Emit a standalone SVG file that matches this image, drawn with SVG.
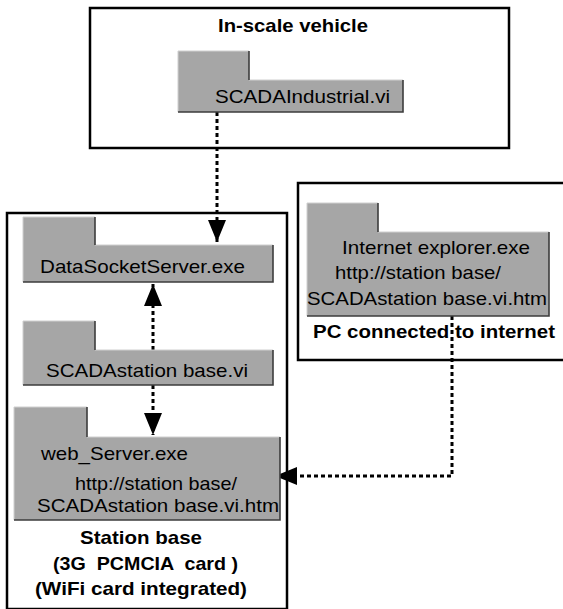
<svg xmlns="http://www.w3.org/2000/svg" width="563" height="609" viewBox="0 0 563 609">
<style>
.box{fill:#fff;stroke:#000;stroke-width:2.5}
.fold{fill:#a6a6a6;stroke:none}
.hl{fill:none;stroke:#cfcfcf;stroke-width:1}
.sh{fill:none;stroke:#3c3c3c;stroke-width:1.6}
.t{font-family:"Liberation Sans",Arial,sans-serif;font-size:19px;fill:#000}
.b{font-family:"Liberation Sans",Arial,sans-serif;font-size:19px;font-weight:bold;fill:#000;white-space:pre}
.con{fill:none;stroke:#000;stroke-width:3;stroke-dasharray:4 3}
</style>
<defs>
<marker id="ah" markerUnits="userSpaceOnUse" markerWidth="22" markerHeight="18" viewBox="0 0 22 18" refX="22" refY="9" orient="auto">
<path d="M0,0 L22,9 L0,18 Z" fill="#000"/>
</marker>
</defs>
<rect width="563" height="609" fill="#fff"/>
<g id="vehicle">
<rect class="box" x="90" y="8" width="419" height="140"/>
<text class="b" x="218" y="32" textLength="150" lengthAdjust="spacingAndGlyphs">In-scale vehicle</text>
</g>
<g id="station">
<rect class="box" x="7" y="213" width="280" height="396"/>
<text class="b" x="141" y="544" text-anchor="middle" textLength="122" lengthAdjust="spacingAndGlyphs">Station base</text>
<text class="b" x="145.5" y="570" text-anchor="middle" textLength="185" lengthAdjust="spacingAndGlyphs" xml:space="preserve">(3G  PCMCIA  card )</text>
<text class="b" x="141" y="595" text-anchor="middle" textLength="212" lengthAdjust="spacingAndGlyphs">(WiFi card integrated)</text>
</g>
<g id="pc">
<rect class="box" x="298" y="183" width="280" height="177"/>
<text class="b" x="313" y="338" textLength="242" lengthAdjust="spacingAndGlyphs">PC connected to internet</text>
</g>
<g id="connectors">
<path class="con" d="M217,112 V242" marker-end="url(#ah)"/>
<path class="con" d="M153,350 V284" marker-end="url(#ah)"/>
<path class="con" d="M153,385 V435" marker-end="url(#ah)"/>
<path class="con" d="M452,316 V476 H275" marker-end="url(#ah)"/>
</g>
<g id="scadaIndustrial">
<path class="fold" d="M178,51 H249 V80 H403 V112 H178 Z"/>
<path class="hl" d="M178,112 V51 H249 M249,80 H403"/>
<path class="sh" d="M249,51 V80 M403,80 V112 H178"/>
<text class="t" x="215" y="103" textLength="175" lengthAdjust="spacingAndGlyphs">SCADAIndustrial.vi</text>
</g>
<g id="dataSocket">
<path class="fold" d="M23,217 H95 V245 H273 V282 H23 Z"/>
<path class="hl" d="M23,282 V217 H95 M95,245 H273"/>
<path class="sh" d="M95,217 V245 M273,245 V282 H23"/>
<text class="t" x="40" y="273" textLength="205" lengthAdjust="spacingAndGlyphs">DataSocketServer.exe</text>
</g>
<g id="scadaStation">
<path class="fold" d="M23,321 H95 V350 H273 V385 H23 Z"/>
<path class="hl" d="M23,385 V321 H95 M95,350 H273"/>
<path class="sh" d="M95,321 V350 M273,350 V385 H23"/>
<text class="t" x="46" y="377" textLength="202" lengthAdjust="spacingAndGlyphs">SCADAstation base.vi</text>
</g>
<g id="webServer">
<path class="fold" d="M14,407 H87 V437 H280 V520 H14 Z"/>
<path class="hl" d="M14,520 V407 H87 M87,437 H280"/>
<path class="sh" d="M87,407 V437 M280,437 V520 H14"/>
<text class="t" x="41" y="460" textLength="147" lengthAdjust="spacingAndGlyphs">web_Server.exe</text>
<text class="t" x="75" y="490" textLength="162" lengthAdjust="spacingAndGlyphs">http://station base/</text>
<text class="t" x="37" y="512" textLength="242" lengthAdjust="spacingAndGlyphs">SCADAstation base.vi.htm</text>
</g>
<g id="internetExplorer">
<path class="fold" d="M307,203 H378 V232 H549 V316 H307 Z"/>
<path class="hl" d="M307,316 V203 H378 M378,232 H549"/>
<path class="sh" d="M378,203 V232 M549,232 V316 H307"/>
<text class="t" x="342" y="254" textLength="188" lengthAdjust="spacingAndGlyphs">Internet explorer.exe</text>
<text class="t" x="335" y="279" textLength="166" lengthAdjust="spacingAndGlyphs">http://station base/</text>
<text class="t" x="307" y="305" textLength="240" lengthAdjust="spacingAndGlyphs">SCADAstation base.vi.htm</text>
</g>
</svg>
